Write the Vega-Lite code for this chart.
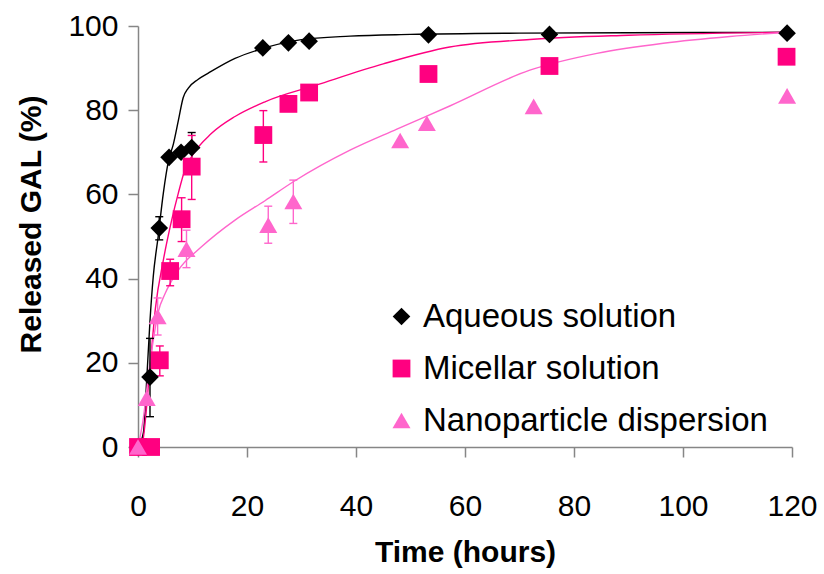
{
  "$schema": "https://vega.github.io/schema/vega-lite/v6.json",
  "width": 654,
  "height": 421,
  "autosize": {"type": "none"},
  "padding": {"left": 138, "top": 26, "right": 32, "bottom": 127},
  "background": "white",
  "config": {
    "view": {"stroke": null},
    "axis": {
      "grid": false,
      "labelFlush": false,
      "labelOverlap": false,
      "domainColor": "#868686",
      "tickColor": "#868686",
      "domainWidth": 1.5,
      "tickWidth": 1.5,
      "tickSize": 10,
      "labelFont": "Liberation Sans",
      "labelFontSize": 30,
      "labelColor": "black",
      "titleFont": "Liberation Sans",
      "titleFontSize": 30,
      "titleFontWeight": "bold",
      "titleColor": "black"
    }
  },
  "datasets": {
    "points": [
      {"series": "Aqueous solution", "t": 0, "y": 0},
      {"series": "Aqueous solution", "t": 2.2, "y": 16.6},
      {"series": "Aqueous solution", "t": 3.9, "y": 52},
      {"series": "Aqueous solution", "t": 5.7, "y": 68.8},
      {"series": "Aqueous solution", "t": 7.9, "y": 70},
      {"series": "Aqueous solution", "t": 9.85, "y": 71.1},
      {"series": "Aqueous solution", "t": 22.9, "y": 94.8},
      {"series": "Aqueous solution", "t": 27.6, "y": 96},
      {"series": "Aqueous solution", "t": 31.4, "y": 96.4},
      {"series": "Aqueous solution", "t": 53.3, "y": 97.9},
      {"series": "Aqueous solution", "t": 75.5, "y": 98},
      {"series": "Aqueous solution", "t": 119.1, "y": 98.3},
      {"series": "Micellar solution", "t": 0, "y": 0},
      {"series": "Micellar solution", "t": 2.4, "y": 0},
      {"series": "Micellar solution", "t": 4, "y": 20.6},
      {"series": "Micellar solution", "t": 5.9, "y": 41.8},
      {"series": "Micellar solution", "t": 8, "y": 54.1},
      {"series": "Micellar solution", "t": 9.85, "y": 66.6},
      {"series": "Micellar solution", "t": 23, "y": 74.1},
      {"series": "Micellar solution", "t": 27.6, "y": 81.5},
      {"series": "Micellar solution", "t": 31.4, "y": 84.2},
      {"series": "Micellar solution", "t": 53.3, "y": 88.6},
      {"series": "Micellar solution", "t": 75.5, "y": 90.5},
      {"series": "Micellar solution", "t": 119, "y": 92.7},
      {"series": "Nanoparticle dispersion", "t": 0, "y": 0},
      {"series": "Nanoparticle dispersion", "t": 1.6, "y": 11.6},
      {"series": "Nanoparticle dispersion", "t": 3.6, "y": 31},
      {"series": "Nanoparticle dispersion", "t": 8.9, "y": 47},
      {"series": "Nanoparticle dispersion", "t": 23.9, "y": 52.7},
      {"series": "Nanoparticle dispersion", "t": 28.5, "y": 58.3},
      {"series": "Nanoparticle dispersion", "t": 48.1, "y": 72.8},
      {"series": "Nanoparticle dispersion", "t": 53, "y": 76.9},
      {"series": "Nanoparticle dispersion", "t": 72.6, "y": 80.9},
      {"series": "Nanoparticle dispersion", "t": 119.1, "y": 83.4}
    ],
    "errors": [
      {"group": "A", "t": 2.2, "lo": 7.2, "hi": 25.8},
      {"group": "A", "t": 3.9, "lo": 49.2, "hi": 54.7},
      {"group": "A", "t": 9.85, "lo": 67.5, "hi": 74.7},
      {"group": "M", "t": 4, "lo": 16.9, "hi": 24},
      {"group": "M", "t": 5.9, "lo": 38.3, "hi": 44.6},
      {"group": "M", "t": 8, "lo": 48.8, "hi": 59.2},
      {"group": "M", "t": 9.85, "lo": 58.8, "hi": 74},
      {"group": "M", "t": 23, "lo": 67.7, "hi": 79.9},
      {"group": "N", "t": 3.6, "lo": 26.6, "hi": 35.4},
      {"group": "N", "t": 8.9, "lo": 42.6, "hi": 51.5},
      {"group": "N", "t": 23.9, "lo": 48.4, "hi": 57.2},
      {"group": "N", "t": 28.5, "lo": 53.1, "hi": 63.4}
    ],
    "curves": [
      {"group": "A", "t": 0, "y": 0},
      {"group": "A", "t": 1, "y": 3.5},
      {"group": "A", "t": 1.6, "y": 16},
      {"group": "A", "t": 2.2, "y": 30},
      {"group": "A", "t": 2.8, "y": 40.5},
      {"group": "A", "t": 3.7, "y": 50},
      {"group": "A", "t": 4.65, "y": 60.3},
      {"group": "A", "t": 5.6, "y": 68},
      {"group": "A", "t": 6.5, "y": 72},
      {"group": "A", "t": 7.4, "y": 77.5},
      {"group": "A", "t": 8.3, "y": 83},
      {"group": "A", "t": 9.2, "y": 85.2},
      {"group": "A", "t": 11, "y": 87.3},
      {"group": "A", "t": 12.9, "y": 88.8},
      {"group": "A", "t": 17.8, "y": 92.3},
      {"group": "A", "t": 22, "y": 94.3},
      {"group": "A", "t": 29.7, "y": 96.7},
      {"group": "A", "t": 38.9, "y": 97.6},
      {"group": "A", "t": 50, "y": 98},
      {"group": "A", "t": 70, "y": 98.3},
      {"group": "A", "t": 90, "y": 98.4},
      {"group": "A", "t": 119, "y": 98.5},
      {"group": "M", "t": 0, "y": 0},
      {"group": "M", "t": 0.7, "y": 0.5},
      {"group": "M", "t": 2.2, "y": 19},
      {"group": "M", "t": 3.2, "y": 33},
      {"group": "M", "t": 4.65, "y": 44.4},
      {"group": "M", "t": 6.2, "y": 54},
      {"group": "M", "t": 7.4, "y": 60.3},
      {"group": "M", "t": 8.6, "y": 65.8},
      {"group": "M", "t": 9.85, "y": 69},
      {"group": "M", "t": 13.5, "y": 74.5},
      {"group": "M", "t": 17.8, "y": 78.5},
      {"group": "M", "t": 23.3, "y": 82},
      {"group": "M", "t": 32.8, "y": 86},
      {"group": "M", "t": 45, "y": 91},
      {"group": "M", "t": 57.2, "y": 95},
      {"group": "M", "t": 71.9, "y": 96.8},
      {"group": "M", "t": 90, "y": 97.8},
      {"group": "M", "t": 119, "y": 98.5},
      {"group": "N", "t": 0, "y": 0},
      {"group": "N", "t": 1, "y": 7},
      {"group": "N", "t": 2, "y": 18},
      {"group": "N", "t": 3, "y": 27},
      {"group": "N", "t": 3.7, "y": 32},
      {"group": "N", "t": 5, "y": 36.5},
      {"group": "N", "t": 7.4, "y": 42},
      {"group": "N", "t": 11.7, "y": 47.6},
      {"group": "N", "t": 17.8, "y": 53.9},
      {"group": "N", "t": 23.3, "y": 58.5},
      {"group": "N", "t": 28.5, "y": 63},
      {"group": "N", "t": 38.9, "y": 70.5},
      {"group": "N", "t": 47.5, "y": 75.5},
      {"group": "N", "t": 57.2, "y": 81},
      {"group": "N", "t": 71.9, "y": 89.5},
      {"group": "N", "t": 84.2, "y": 93.5},
      {"group": "N", "t": 96.4, "y": 95.9},
      {"group": "N", "t": 108.6, "y": 97.5},
      {"group": "N", "t": 119, "y": 98.5}
    ]
  },
  "encoding": {
    "x": {
      "field": "t",
      "type": "quantitative",
      "scale": {"domain": [0, 120], "nice": false, "zero": false},
      "axis": {
        "values": [0, 20, 40, 60, 80, 100, 120],
        "title": "Time (hours)",
        "labelPadding": 34,
        "titleBaseline": "alphabetic",
        "titleX": 327,
        "titleY": 114
      }
    }
  },
  "layer": [
    {
      "data": {"name": "curves"},
      "mark": {"type": "line", "interpolate": "monotone", "strokeWidth": 1.4},
      "encoding": {
        "y": {
          "field": "y",
          "type": "quantitative",
          "scale": {"domain": [0, 100], "nice": false},
          "axis": {
            "values": [0, 20, 40, 60, 80, 100],
            "title": "Released GAL (%)",
            "labelPadding": 10,
            "titleBaseline": "alphabetic",
            "titleAngle": -90,
            "titleX": -98,
            "titleY": 198
          }
        },
        "stroke": {
          "field": "group",
          "type": "nominal",
          "scale": {"domain": ["A", "M", "N"], "range": ["#000000", "#FF0080", "#FF66CC"]},
          "legend": null
        }
      }
    },
    {
      "data": {"name": "errors"},
      "mark": {"type": "rule", "strokeWidth": 1.4},
      "encoding": {
        "y": {"field": "lo", "type": "quantitative"},
        "y2": {"field": "hi"},
        "stroke": {"field": "group", "type": "nominal", "legend": null}
      }
    },
    {
      "data": {"name": "errors"},
      "mark": {"type": "point", "shape": "M-1,0L1,0", "size": 64, "filled": false, "strokeWidth": 1.4, "opacity": 1},
      "encoding": {
        "y": {"field": "lo", "type": "quantitative"},
        "stroke": {"field": "group", "type": "nominal", "legend": null}
      }
    },
    {
      "data": {"name": "errors"},
      "mark": {"type": "point", "shape": "M-1,0L1,0", "size": 64, "filled": false, "strokeWidth": 1.4, "opacity": 1},
      "encoding": {
        "y": {"field": "hi", "type": "quantitative"},
        "stroke": {"field": "group", "type": "nominal", "legend": null}
      }
    },
    {
      "data": {"name": "points"},
      "mark": {"type": "point", "filled": true, "opacity": 1, "strokeWidth": 0},
      "encoding": {
        "y": {"field": "y", "type": "quantitative"},
        "color": {
          "field": "series",
          "type": "nominal",
          "scale": {
            "domain": ["Aqueous solution", "Micellar solution", "Nanoparticle dispersion"],
            "range": ["#000000", "#FF0080", "#FF66CC"]
          },
          "legend": {
            "orient": "none",
            "legendX": 247,
            "legendY": 274,
            "title": null,
            "padding": 0,
            "offset": 0,
            "labelFont": "Liberation Sans",
            "labelFontSize": 33,
            "labelColor": "black",
            "labelLimit": 500,
            "labelOffset": 5,
            "rowPadding": 18,
            "symbolStrokeWidth": 0
          }
        },
        "shape": {
          "field": "series",
          "type": "nominal",
          "scale": {
            "domain": ["Aqueous solution", "Micellar solution", "Nanoparticle dispersion"],
            "range": ["diamond", "square", "triangle-up"]
          }
        },
        "size": {
          "field": "series",
          "type": "nominal",
          "scale": {
            "domain": ["Aqueous solution", "Micellar solution", "Nanoparticle dispersion"],
            "range": [310, 324, 370]
          }
        }
      }
    }
  ]
}
